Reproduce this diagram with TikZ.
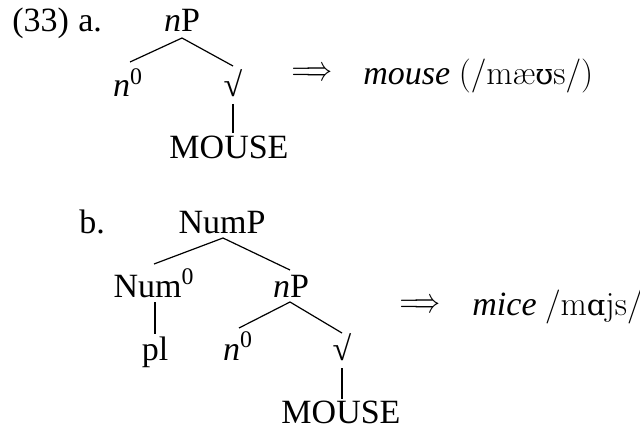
\documentclass[tikz,border=0pt]{standalone}
\usepackage{fontspec}
\setmainfont{Liberation Serif}
\newfontfamily\lmfont{Latin Modern Roman}
\newfontfamily\ipafb{DejaVu Serif}[Scale=0.85]
\usetikzlibrary{calc}
\begin{document}
\begin{tikzpicture}[x=0.5pt,y=-0.5pt,
  txt/.style={inner sep=0pt,anchor=base,font=\fontsize{17}{20}\selectfont},
  lbl/.style={txt,anchor=base west},
  branch/.style={line width=0.6pt},
  arr/.style={inner sep=0pt,font=\fontsize{17}{20}\selectfont}]
\useasboundingbox (0,0) rectangle (640,427);
% (a)
\node[lbl] (ex) at (12,32) {(33)};
\node[lbl] (la) at (78,32) {a.};
\node[txt] (nPa) at (182,32) {\textit{n}P};
\node[txt] (na) at (128,97) {\textit{n}\textsuperscript{0}};
\node[txt] (ra) at (233,97) {√};
\node[txt] (moa) at (229,158) {MOUSE};
\node[arr] (ara) at (312,74) {\scalebox{0.75}[1]{$\Longrightarrow$}};
\node[lbl] (outa) at (363,85) {\textit{mouse} {\lmfont(/mæ{\ipafb ʊ}s/)}};
\draw[branch] ($(nPa.base)+(0,6)$) -- ($(na.base)+(2,-35)$);
\draw[branch] ($(nPa.base)+(0,6)$) -- ($(ra.base)+(0,-31)$);
\draw[branch] ($(ra.base)+(0,7)$) -- ($(ra.base |- moa.base)+(0,-25)$);
% (b)
\node[lbl] (lb) at (79,233) {b.};
\node[txt] (NumP) at (222,233) {NumP};
\node[txt] (Num) at (154,297) {Num\textsuperscript{0}};
\node[txt] (nPb) at (291,297) {\textit{n}P};
\node[txt] (pl) at (155,360) {pl};
\node[txt] (nb) at (238,360) {\textit{n}\textsuperscript{0}};
\node[txt] (rb) at (342,360) {√};
\node[txt] (mob) at (341,423) {MOUSE};
\node[arr] (arb) at (420,306) {\scalebox{0.75}[1]{$\Longrightarrow$}};
\node[lbl] (outb) at (472,315) {\textit{mice} {\lmfont/m{\ipafb ɑ}js/}};
\draw[branch] ($(NumP.base)+(1,5)$) -- ($(Num.base)+(0,-33)$);
\draw[branch] ($(NumP.base)+(1,5)$) -- ($(nPb.base)+(-1,-27)$);
\draw[branch] ($(Num.base)+(1,5)$) -- ($(pl.base)+(0,-26)$);
\draw[branch] ($(nPb.base)+(-1,5)$) -- ($(nb.base)+(1,-32)$);
\draw[branch] ($(nPb.base)+(-1,5)$) -- ($(rb.base)+(0,-27)$);
\draw[branch] ($(rb.base)+(0,8)$) -- ($(rb.base)+(0,39)$);
\end{tikzpicture}
\end{document}
